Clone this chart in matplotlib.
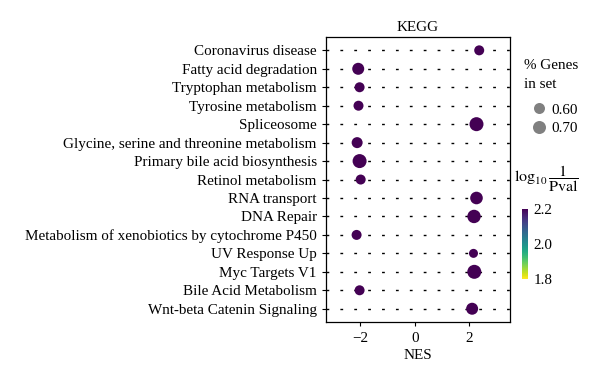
import matplotlib
matplotlib.use("Agg")
import matplotlib.pyplot as plt
import numpy as np
from matplotlib.lines import Line2D

plt.rcParams['font.family'] = ['Liberation Serif', 'DejaVu Serif']
plt.rcParams['mathtext.fontset'] = 'stix'

pathways = ["Coronavirus disease", "Fatty acid degradation", "Tryptophan metabolism",
            "Tyrosine metabolism", "Spliceosome", "Glycine, serine and threonine metabolism",
            "Primary bile acid biosynthesis", "Retinol metabolism", "RNA transport",
            "DNA Repair", "Metabolism of xenobiotics by cytochrome P450", "UV Response Up",
            "Myc Targets V1", "Bile Acid Metabolism", "Wnt-beta Catenin Signaling"]
nes = [2.36, -2.08, -2.03, -2.07, 2.26, -2.12, -2.03, -1.99, 2.26, 2.17, -2.14, 2.15, 2.18, -2.03, 2.10]
pct_genes = [0.55, 0.65, 0.55, 0.55, 0.75, 0.60, 0.75, 0.55, 0.68, 0.72, 0.55, 0.50, 0.75, 0.55, 0.65]
log_inv_p = [2.3, 2.3, 2.3, 2.3, 2.3, 2.3, 2.3, 2.3, 2.3, 2.3, 2.3, 2.3, 2.3, 2.3, 2.3]
legend_pcts = [0.60, 0.70]
x_ticks = [-2, 0, 2]
cbar_ticks = [1.8, 2.0, 2.2]

DPI = 100
FS = 10.9
def size_of(p):
    d_px = 11 + (p - 0.6) * 20
    return (d_px * 72 / DPI) ** 2

fig = plt.figure(figsize=(6, 3.82), dpi=DPI)
ax = fig.add_axes([0.543, 0.157, 0.307, 0.746])

n = len(pathways)
ypos = np.arange(n)[::-1]
for y in ypos:
    ax.axhline(y, color='black', lw=1.0, linestyle=(0, (2, 8)), zorder=1)

sc = ax.scatter(nes, ypos, s=[size_of(p) for p in pct_genes], c=log_inv_p,
                cmap='viridis_r', vmin=1.8, vmax=2.2, zorder=3, linewidths=0)

ax.set_xlim(-3.27, 3.49)
ax.set_ylim(-0.72, n - 1 + 0.72)
ax.set_yticks(ypos)
ax.set_yticklabels(pathways, fontsize=FS)
ax.set_xticks(x_ticks)
ax.set_xticklabels([f"{t}".replace('-', '\u2212') for t in x_ticks], fontsize=FS)
ax.tick_params(axis='both', length=3, width=0.8)
ax.tick_params(axis='x', pad=4.5)
ax.set_xlabel("NES", fontsize=FS, labelpad=2.5)
ax.set_title("KEGG", fontsize=FS, pad=4)
for sp in ax.spines.values():
    sp.set_linewidth(0.9)

fig.text(0.873, 0.845, "% Genes\nin set", fontsize=FS, va='top', ha='left', linespacing=1.6)

handles = [Line2D([], [], marker='o', linestyle='', color='#808080',
                  markersize=np.sqrt(size_of(p)), markeredgewidth=0) for p in legend_pcts]
leg = fig.legend(handles, [f"{p:.2f}" for p in legend_pcts],
                 loc='upper left', bbox_to_anchor=(0.872, 0.75), frameon=False,
                 fontsize=FS, handletextpad=0.25,
                 labelspacing=0.3, borderpad=0, handlelength=1.1)

fig.text(0.857, 0.534, r"$\log_{10}\dfrac{1}{\mathrm{Pval}}$", fontsize=11.5, va='center', ha='left')

cax = fig.add_axes([0.87, 0.270, 0.01, 0.183])
cb = fig.colorbar(sc, cax=cax, ticks=cbar_ticks)
cb.outline.set_visible(False)
cb.ax.tick_params(length=3, width=0.8, color='white', labelsize=FS, pad=1)
cb.ax.set_yticklabels([f"{t:.1f}" for t in cbar_ticks])

fig.savefig("out.png", dpi=DPI)
